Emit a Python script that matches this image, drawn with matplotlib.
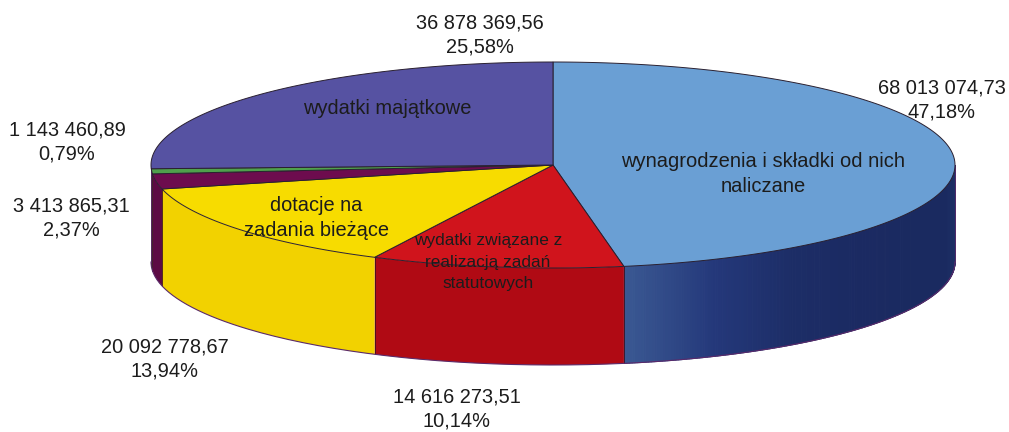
import numpy as np
import matplotlib.pyplot as plt
from matplotlib.colors import LinearSegmentedColormap

plt.rcParams['font.family'] = ['Liberation Sans', 'DejaVu Sans']

# Slice data, clockwise from the top of the pie
amounts = ['68 013 074,73', '14 616 273,51', '20 092 778,67', '3 413 865,31', '1 143 460,89', '36 878 369,56']
shares = [47.18, 10.14, 13.94, 2.37, 0.79, 25.58]
top_colors = ['#6a9fd4', '#d0141c', '#f7dc00', '#6d0c4e', '#4fa04c', '#5652a2']
side_colors = ['#1f2f68', '#b00a14', '#f2d200', '#5c0a44', '#3c8040', '#48488a']

# Pie geometry in image pixels
cx, cy = 553, 165
rx, ry = 402, 103
depth = 97


def rim(a0, a1, n=200):
    t = np.radians(np.linspace(a0, a1, n))
    return cx + rx * np.cos(t), cy + ry * np.sin(t)


fig = plt.figure(figsize=(10.09, 4.32), dpi=100)
ax = fig.add_axes([0, 0, 1, 1])
ax.set_xlim(0, 1009)
ax.set_ylim(432, 0)
ax.axis('off')

# y axis is inverted, so growing angles run clockwise on screen; -90 is the top
edges = -90 + np.concatenate([[0], np.cumsum(shares)]) * 360 / sum(shares)

blue_side = LinearSegmentedColormap.from_list(
    'blue_side', ['#1f3268', '#1a2a60', '#1a2a60', '#1b2a62', '#1c2d66', '#24387a', '#3a5892'])

# Front wall of the pie
for i in range(len(shares)):
    # only the part with the lower half of the ellipse can be seen
    lo, hi = max(edges[i], 0), min(edges[i + 1], 180)
    if hi <= lo:
        continue
    if i == 0:
        # the blue wall gets lighter towards the red slice
        steps = np.linspace(lo, hi, 200)
        for k in range(len(steps) - 1):
            x, y = rim(steps[k], steps[k + 1], 4)
            ax.fill(np.r_[x, x[::-1]], np.r_[y, y[::-1] + depth],
                    color=blue_side(k / 198), lw=0.8, zorder=2)
    else:
        x, y = rim(lo, hi)
        ax.fill(np.r_[x, x[::-1]], np.r_[y, y[::-1] + depth], color=side_colors[i], lw=0, zorder=2)
        ax.plot([x[0], x[0]], [y[0], y[0] + depth], color='#3a1020', lw=0.6, zorder=3)

x, y = rim(0, 180)
ax.plot(x, y + depth, color='#5a2a6a', lw=0.8, zorder=3)
ax.plot([cx + rx, cx + rx], [cy, cy + depth], color='#5a2a6a', lw=0.6, zorder=3)
ax.plot([cx - rx, cx - rx], [cy, cy + depth], color='#5a2a6a', lw=0.6, zorder=3)

# Top face
for i in range(len(shares)):
    x, y = rim(edges[i], edges[i + 1])
    ax.fill(np.r_[cx, x], np.r_[cy, y], facecolor=top_colors[i], edgecolor='#2a2030', lw=0.7, zorder=4)

# Labels on the slices
inner = [('wynagrodzenia i składki od nich\nnaliczane', 763, 174, 14.5),
         ('wydatki związane z\nrealizacją zadań\nstatutowych', 488, 262, 12.4),
         ('dotacje na\nzadania bieżące', 316, 218, 14.4),
         ('wydatki majątkowe', 387, 109, 14.4)]
for txt, tx, ty, size in inner:
    ax.text(tx, ty, txt, ha='center', va='center', fontsize=size, color='#1c1c1c',
            linespacing=1.35 * 14.4 / size if size < 14 else 1.35, zorder=5)

# Amounts and shares around the pie
outer_pos = [(942, 100), (457, 409), (165, 359), (71, 218), (67, 142), (480, 35)]
for amount, share, (tx, ty) in zip(amounts, shares, outer_pos):
    label = amount + '\n' + f'{share:.2f}'.replace('.', ',') + '%'
    ax.text(tx, ty, label, ha='center', va='center', fontsize=14.4, color='#1c1c1c', linespacing=1.33, zorder=5)

fig.savefig('out.png', dpi=100)
